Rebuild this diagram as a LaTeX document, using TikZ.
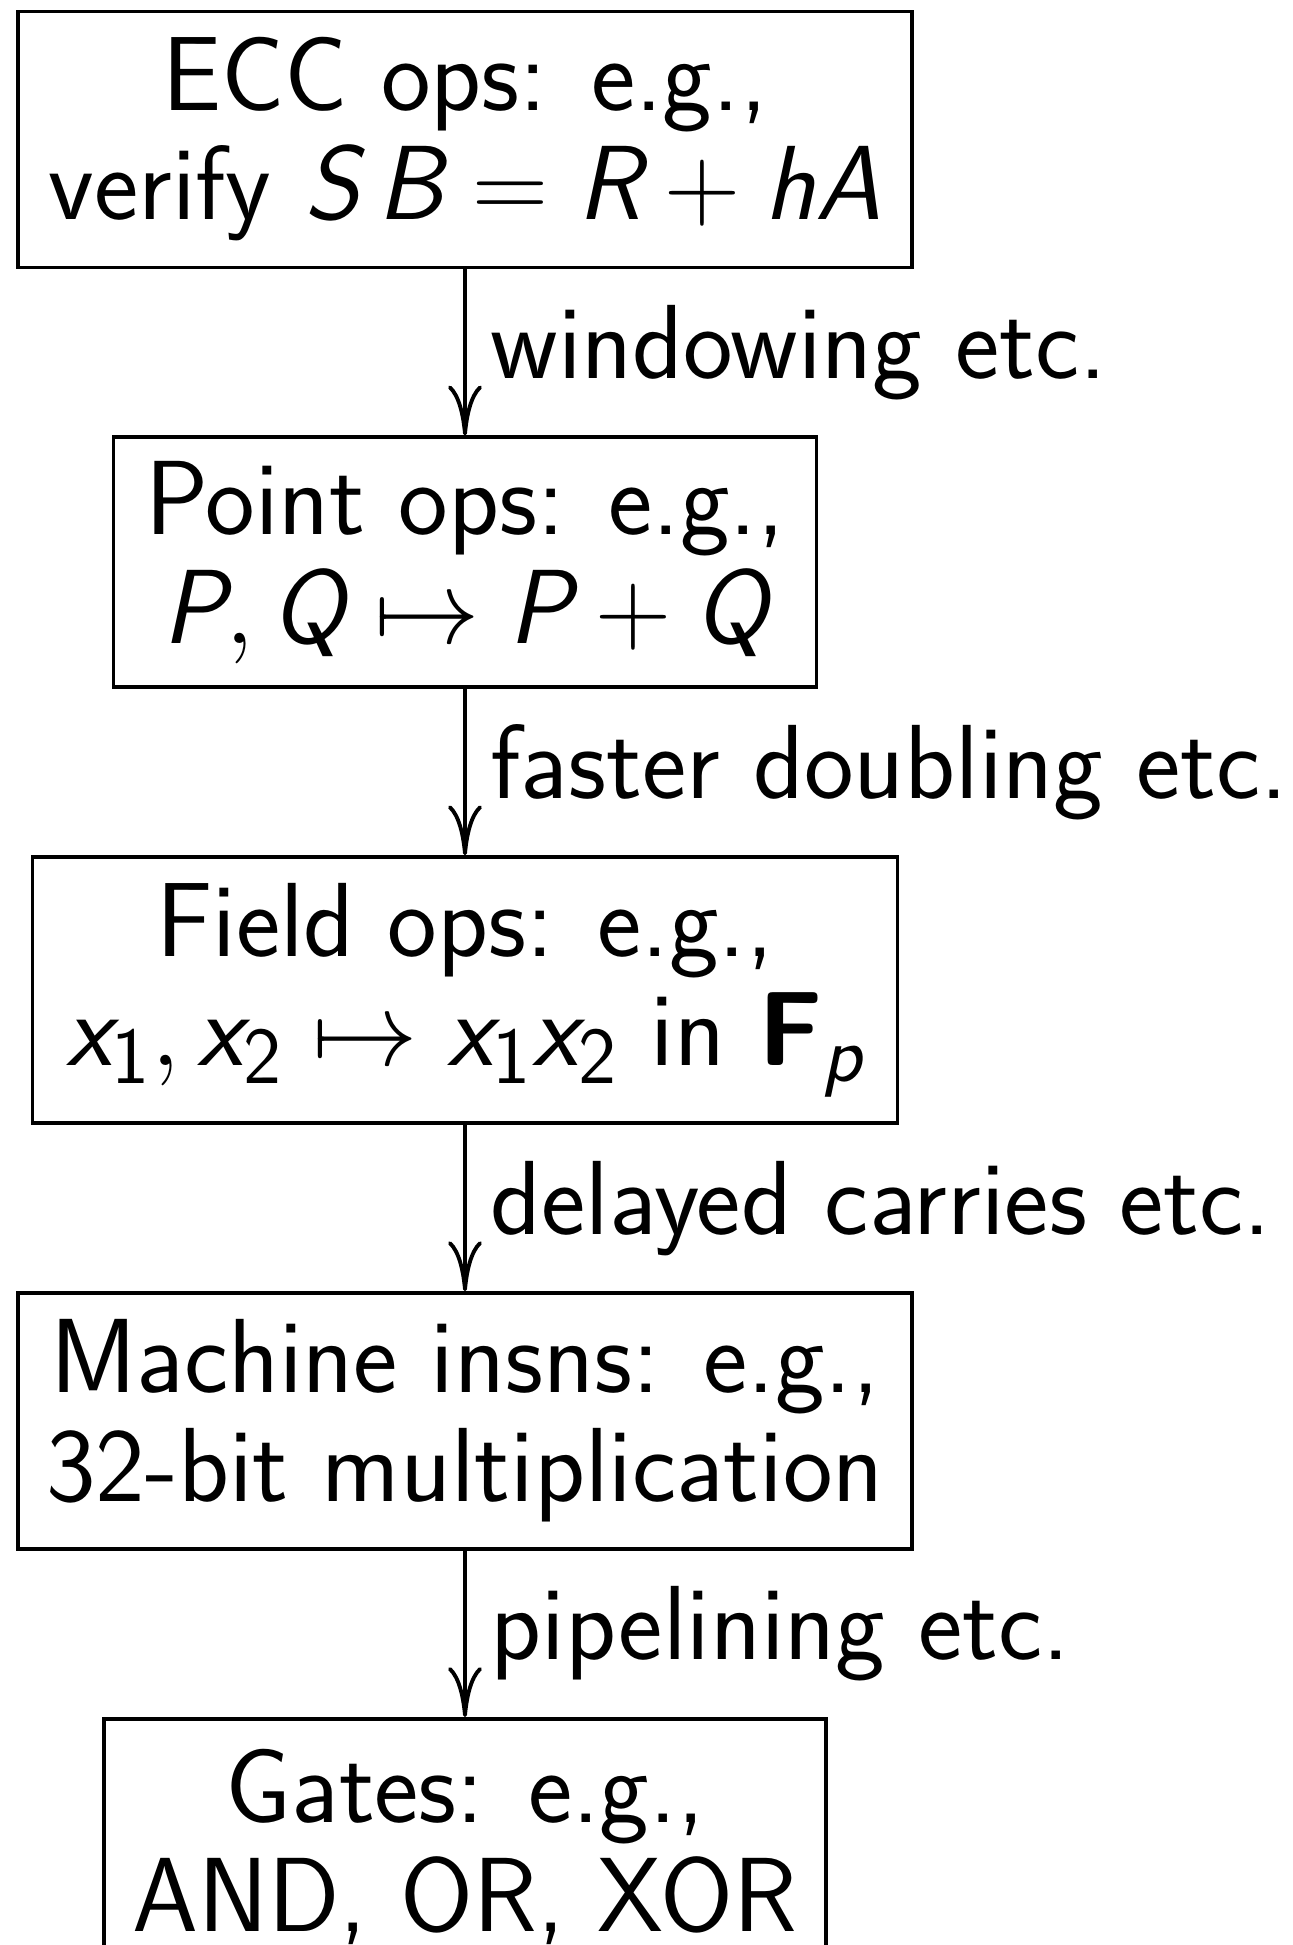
\RequirePackage{fix-cm}
\documentclass[tikz,border=0pt]{standalone}
\usepackage{amsmath}
\usetikzlibrary{positioning,arrows.meta}

\DeclareMathSizes{30}{30}{23}{17}
\newcommand{\mi}[1]{\text{\sffamily\itshape #1}}
\newcommand{\su}[1]{\text{\sffamily #1}}

\begin{document}
\begin{tikzpicture}[every node/.style={font=\sffamily\fontsize{30}{31}\selectfont},
  layer/.style={draw,line width=1.1pt,align=center,minimum height=2.56cm,inner sep=0pt},
  refine/.style={-{To[length=5mm,width=3.4mm]},line width=1.1pt},
  how/.style={right,xshift=0.12cm},
  node distance=1.66cm]
\useasboundingbox (0,0) rectangle (12.93,-19.45);

\node[layer,minimum width=8.94cm] (ecc) at (4.65,-1.395) {ECC ops: e.g.,\\verify $\mi{S}\,\mi{B}=\mi{R}+\mi{h}\mi{A}$};
\node[layer,minimum width=7.03cm,minimum height=2.50cm,below=of ecc] (point) {Point ops: e.g.,\\$\mi{P},\mi{Q}\mapsto\mi{P}+\mi{Q}$};
\node[layer,minimum width=8.65cm,minimum height=2.66cm,below=of point] (field) {Field ops: e.g.,\\$\mi{x}_{\su{1}},\mi{x}_{\su{2}}\mapsto\mi{x}_{\su{1}}\mi{x}_{\su{2}}$ in $\textbf{F}_{\mi{p}}$};
\node[layer,minimum width=8.94cm,below=of field] (insn) {Machine insns: e.g.,\\32-bit multiplication};
\node[layer,minimum width=7.22cm,below=of insn] (gate) {Gates: e.g.,\\AND, OR, XOR};

% refinement steps
\draw[refine] (ecc) -- node[how] {windowing etc.} (point);
\draw[refine] (point) -- node[how] {faster doubling etc.} (field);
\draw[refine] (field) -- node[how] {delayed carries etc.} (insn);
\draw[refine] (insn) -- node[how] {pipelining etc.} (gate);
\end{tikzpicture}
\end{document}
